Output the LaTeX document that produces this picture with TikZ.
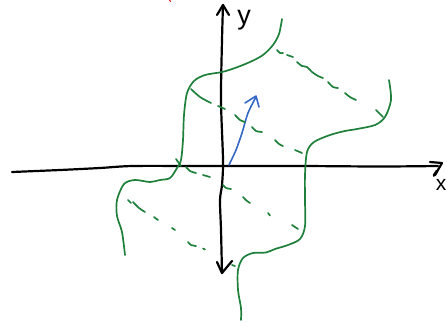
\documentclass[tikz,border=0pt]{standalone}
\usepackage{fontspec}
\setmainfont{Liberation Sans}
\definecolor{pgreen}{RGB}{30,128,58}
\definecolor{pblue}{RGB}{52,104,196}
\definecolor{pred}{RGB}{235,30,30}
\begin{document}
\begin{tikzpicture}[x=1pt,y=-1pt,
  axis/.style={black,line width=2.2pt,line cap=round,line join=round},
  curve/.style={pgreen,line width=1.7pt,line cap=round,line join=round},
  dsh/.style={pgreen,line width=1.7pt,line cap=round},
  vec/.style={pblue,line width=1.6pt,line cap=round,line join=round},
  lab/.style={inner sep=0pt,anchor=base}]
\useasboundingbox (0,0) rectangle (447,322);
% red mark
\draw[pred,line width=1pt,line cap=round] (169.5,0) -- (170.5,1.5);
% x axis
\draw[axis] plot[smooth] coordinates {(12,172) (60,170) (100,168) (133,166) (200,166) (300,166) (380,166.5) (438,166)};
\draw[axis] (430,162) -- (442,163) -- (435,175);
\draw[black,line width=2.8pt,line cap=round] (437,171) -- (434,175.5);
% y axis
\draw[axis] plot[smooth] coordinates {(223,5) (222,40) (221,100) (223,160) (222,185) (220,200) (221,230) (222,273)};
\draw[axis] (217,15) -- (223,5) -- (229,15);
\draw[axis] (217,262) -- (222,273) -- (232,261);
% labels
\node[lab,font=\fontsize{27}{27}\selectfont] (ylab) at (244,24) {y};
\node[lab,font=\fontsize{21}{21}\selectfont] (xlab) at (441,190) {x};
% blue vector
\draw[vec] plot[smooth] coordinates {(229,165) (236,150) (242,133) (248,113) (256,97)};
\draw[vec] (245,103) -- (256,96) -- (259,107);
% green curve 1
\draw[curve] plot[smooth] coordinates {(282,19) (279,34) (273,45) (263,55) (250,62) (235,68) (222,72) (205,75) (194,81) (187,93) (184,115) (183,140) (181,160) (177,168) (170,178) (160,180) (150,182) (135,180) (124,184) (117,200) (117,216) (122,232) (125,255)};
% green curve 2
\draw[curve] plot[smooth] coordinates {(389,80) (391,100) (385,117) (375,125) (357,129) (345,131) (330,135) (314,142) (307,152) (305,175) (305,200) (305,226) (300,239) (288,245) (275,249) (266,252.5) (253,253) (243,258) (238,270) (238,290) (241,308) (241,320)};
% dashed line 1
\draw[dsh] plot[smooth] coordinates {(277,50) (280,53) (283,53)};
\draw[dsh] (287,55) -- (293,57);
\draw[dsh] plot[smooth] coordinates {(297,62) (302,66) (307,67) (312,72) (318,76) (323,78)};
\draw[dsh] plot[smooth] coordinates {(328,82) (333,87) (338,88)};
\draw[dsh] plot[smooth] coordinates {(345,93) (350,97) (356,100)};
\draw[dsh] (376,110) -- (383,117);
% dashed line 2
\draw[dsh] plot[smooth] coordinates {(191,89) (200,97) (211,103)};
\draw[dsh] (218,106) -- (225,109);
\draw[dsh] plot[smooth] coordinates {(235,115) (240,120) (245,122)};
\draw[dsh] plot[smooth] coordinates {(252,127) (256,131) (262,132)};
\draw[dsh] plot[smooth] coordinates {(275,140) (279,144) (283,146)};
\draw[dsh] (295,150) -- (302,153);
% dashed line 3
\draw[dsh] (176,159) -- (181,166);
\draw[dsh] plot[smooth] coordinates {(186,167) (190,171) (196,173)};
\draw[dsh] (203,175) -- (210,177);
\draw[dsh] plot[smooth] coordinates {(223,185) (226,188) (231,189)};
\draw[dsh] plot[smooth] coordinates {(243,197) (247,201) (250,203)};
\draw[dsh] (268,213) -- (270,215.5);
\draw[dsh] (292,225) -- (298,229);
% dashed line 4
\draw[dsh] (128,200) -- (131,203);
\draw[dsh] plot[smooth] coordinates {(133,202) (139,208) (145,212)};
\draw[dsh] (154,217) -- (158,220);
\draw[dsh] (172,228) -- (175,230);
\draw[dsh] plot[smooth] coordinates {(188,242) (191,245) (196,246)};
\draw[dsh] (203,248.5) -- (205,249.5);
\draw[dsh] (232,265) -- (235,266);
\end{tikzpicture}
\end{document}
